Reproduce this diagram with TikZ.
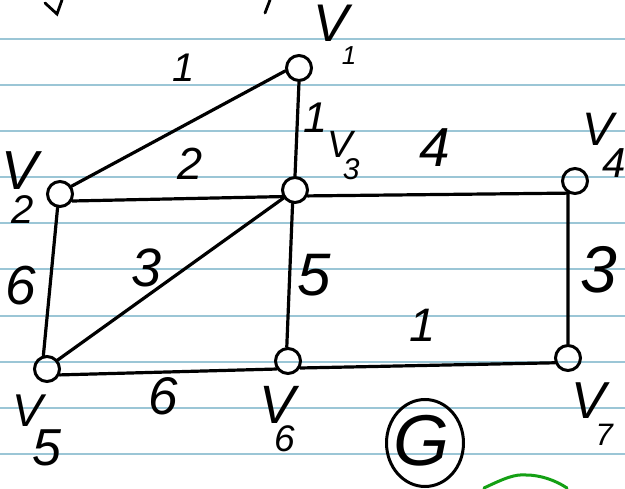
\documentclass[tikz,border=0pt]{standalone}
\usepackage{fontspec}
\setmainfont{Liberation Sans}
\usetikzlibrary{shapes.geometric}
\definecolor{paperline}{RGB}{155,198,214}
\definecolor{penink}{RGB}{0,0,0}
\definecolor{greenink}{RGB}{20,160,20}
\newcommand{\hw}[2]{\fontsize{#1}{#1}\selectfont\itshape #2}
% \vlabel{V size}{sub size}{sub}{kern}{lower}
\newcommand{\vlabel}[5]{\hw{#1}{V}\kern#4pt\raisebox{-#5pt}{\hw{#2}{#3}}}
\begin{document}
\begin{tikzpicture}[x=1pt,y=-1pt,
  vtx/.style={circle,draw=penink,line width=3pt,minimum size=25pt,inner sep=0pt},
  edge/.style={draw=penink,line width=3.2pt,line cap=round},
  lbl/.style={inner sep=0pt,text=penink},
  vlbl/.style={inner sep=0pt,text=penink,anchor=base west},
  ruled/.style={draw=paperline,line width=1.6pt}]
\useasboundingbox (0,0) rectangle (625,489);
\fill[white] (0,0) rectangle (625,489);
% ruled paper
\foreach \yy in {39,85,131,177,223,269,316,362,408,454}
  \draw[ruled] (0,\yy) -- (625,\yy);
% fragments of text cut off at the top
\draw[edge,line width=2.8pt] (45,3) -- (57,14) -- (62,0);
\draw[edge,line width=2.8pt] (270,0) -- (265,13);
% vertices
\node[vtx] (v1) at (299,68) {};
\node[vtx] (v2) at (60,194) {};
\node[vtx] (v3) at (295,190) {};
\node[vtx] (v4) at (575,181) {};
\node[vtx] (v5) at (47,369) {};
\node[vtx] (v6) at (288,361) {};
\node[vtx] (v7) at (568,358) {};
% edges
\draw[edge] (v2.34) -- (v1.192);
\draw[edge] (v1.south) -- (v3.north);
\draw[edge] (v2.-30) -- (v3.208);
\draw[edge] (v3.-25) -- (v4.240);
\draw[edge] (v3.215) -- (v5.40);
\draw[edge] (v3.-100) -- (v6.95);
\draw[edge] (v2.-100) -- (v5.105);
\draw[edge] (v4.-120) -- (v7.north);
\draw[edge] (v5.-25) -- (v6.215);
\draw[edge] (v6.-30) -- (v7.200);
% vertex labels
\node[vlbl] (l1) at (313.4,42) {\vlabel{53}{26}{1}{-7}{22.3}};
\node[vlbl] (l2) at (1.5,189.7) {\vlabel{55}{40}{2}{-26.5}{33.6}};
\node[vlbl] (l3) at (327.3,157.6) {\vlabel{38}{30}{3}{-10}{22.1}};
\node[vlbl] (l4) at (582.3,145.8) {\vlabel{47}{42}{4}{-11}{32.2}};
\node[vlbl] (l5) at (12.7,426.5) {\vlabel{46}{52}{5}{-10.9}{39.1}};
\node[vlbl] (l6) at (259,423.3) {\vlabel{54}{37}{6}{-20.3}{27.9}};
\node[vlbl] (l7) at (571.7,418.6) {\vlabel{52}{31}{7}{-11}{26.5}};
% edge weights
\node[lbl] (w12) at (184,68) {\hw{40}{1}};
\node[lbl] (w13) at (315,118) {\hw{43}{1}};
\node[lbl] (w23) at (190,164) {\hw{45}{2}};
\node[lbl] (w34) at (435,148) {\hw{55}{4}};
\node[lbl] (w25) at (21,286) {\hw{55}{6}};
\node[lbl] (w35) at (147,268) {\hw{54}{3}};
\node[lbl] (w36) at (314,275) {\hw{60}{5}};
\node[lbl] (w47) at (599,270) {\hw{66}{3}};
\node[lbl] (w67) at (423,325) {\hw{47}{1}};
\node[lbl] (w56) at (163,396) {\hw{53}{6}};
% graph name
\node[ellipse,draw=penink,line width=3pt,minimum width=77pt,minimum height=87pt,inner sep=0pt] (gname) at (425,443) {};
\node[lbl] (gtext) at (421,441) {\hw{72}{G}};
% green stroke at the bottom
\draw[draw=greenink,line width=3pt,line cap=round] (484,488) .. controls (505,478) and (515,474) .. (526,475) .. controls (540,475) and (555,480) .. (567,488);
\end{tikzpicture}
\end{document}
